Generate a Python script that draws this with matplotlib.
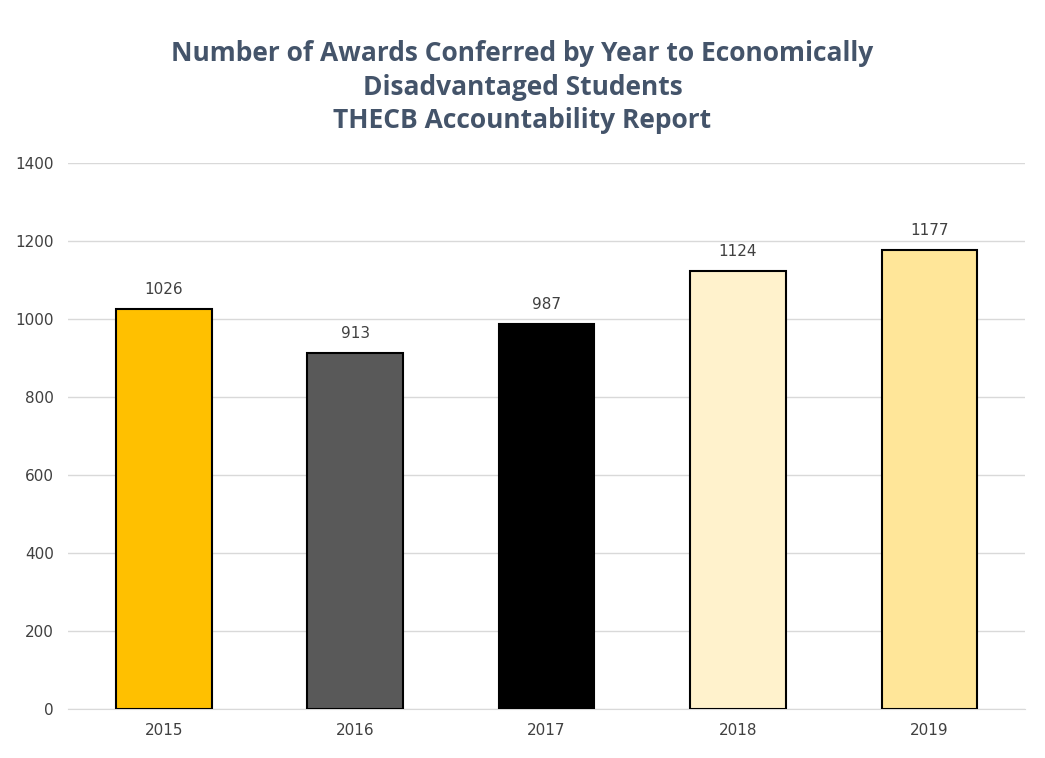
import matplotlib.pyplot as plt

# Data
years = ['2015', '2016', '2017', '2018', '2019']
awards = [1026, 913, 987, 1124, 1177]
bar_colors = ['#FFC000', '#595959', '#000000', '#FFF2CC', '#FFE699']

fig = plt.figure(figsize=(10.45, 7.58), dpi=100)
ax = fig.add_axes([0.065, 0.0646, 0.916, 0.7204])

bars = ax.bar(years, awards, width=0.5, color=bar_colors, edgecolor='black', linewidth=1.5, zorder=3)
for b, v in zip(bars, awards):
    ax.text(b.get_x() + b.get_width() / 2, v + 30, str(v), ha='center', va='bottom',
            fontsize=11, color='#404040')

ax.set_ylim(0, 1400)
ax.set_yticks(range(0, 1401, 200))
ax.set_xlim(-0.5, 4.5)
ax.grid(axis='y', color='#D9D9D9', linewidth=1, zorder=0)
for s in ['left', 'right', 'top']:
    ax.spines[s].set_visible(False)
ax.spines['bottom'].set_color('#D9D9D9')
ax.tick_params(length=0, labelsize=11, labelcolor='#404040', pad=10)

fig.text(0.5, 0.885, 'Number of Awards Conferred by Year to Economically\n'
         'Disadvantaged Students\nTHECB Accountability Report',
         ha='center', va='center', fontsize=19, fontweight='bold', color='#44546A',
         family='Open Sans', linespacing=1.3)

plt.savefig('out.png', dpi=100)
